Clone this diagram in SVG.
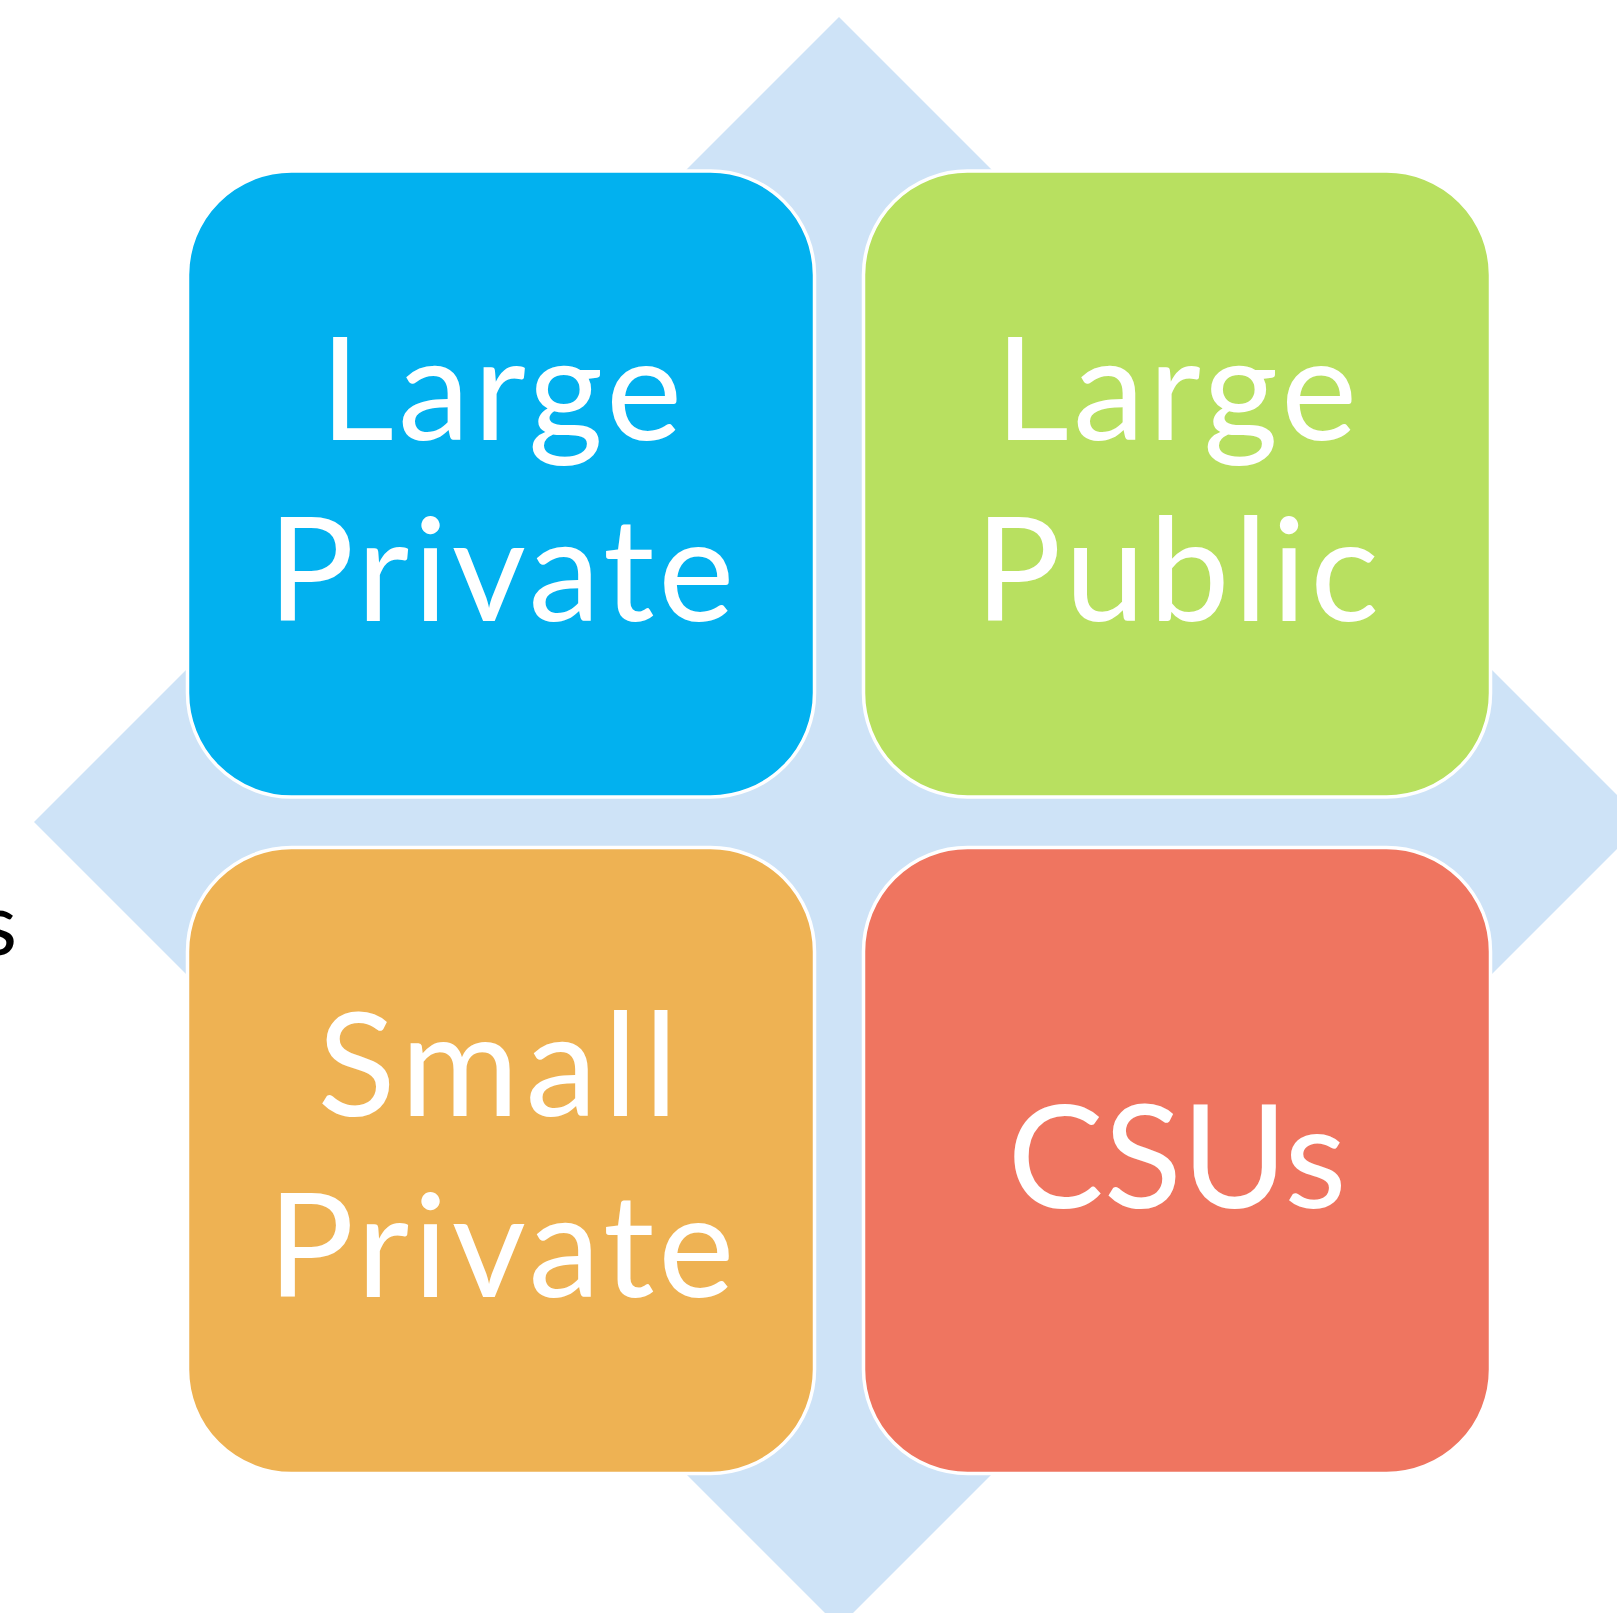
<svg xmlns="http://www.w3.org/2000/svg" width="1617" height="1613" viewBox="0 0 1617 1613">
  <style>
    .box { stroke: #FFFFFF; stroke-width: 3.5; }
    .lbl { font-family: Lato, "Open Sans", "Liberation Sans", sans-serif; font-size: 144px; fill: #FFFFFF; text-anchor: middle; letter-spacing: 4px; }
    .tight { letter-spacing: 0px; }
    .wide { letter-spacing: 6.5px; }
    .side { font-family: Lato, "Open Sans", "Liberation Sans", sans-serif; font-size: 88px; fill: #000000; }
  </style>
  <rect x="0" y="0" width="1617" height="1613" fill="#FFFFFF"/>
  <g id="background">
    <polygon points="839,17 1644,822 839,1627 34,822" fill="#CEE3F7"/>
  </g>
  <text class="side" x="-21" y="955">s</text>
  <g id="node-large-private">
    <rect class="box" x="187.5" y="171" width="627" height="626" rx="104" ry="104" fill="#02B1EF"/>
    <text class="lbl" x="503" y="439.5">Large</text>
    <text class="lbl" x="503" y="621">Private</text>
  </g>
  <g id="node-large-public">
    <rect class="box" x="863.5" y="171" width="627" height="626" rx="104" ry="104" fill="#B8E060"/>
    <text class="lbl" x="1178" y="439.5">Large</text>
    <text class="lbl" x="1179" y="621">Public</text>
  </g>
  <g id="node-small-private">
    <rect class="box" x="187.5" y="847.5" width="627" height="626" rx="104" ry="104" fill="#EEB253"/>
    <text class="lbl wide" x="501" y="1116">Small</text>
    <text class="lbl" x="503" y="1297">Private</text>
  </g>
  <g id="node-csus">
    <rect class="box" x="863.5" y="847.5" width="627" height="626" rx="104" ry="104" fill="#EF7560"/>
    <text class="lbl tight" x="1177" y="1207.5">CSUs</text>
  </g>
</svg>
